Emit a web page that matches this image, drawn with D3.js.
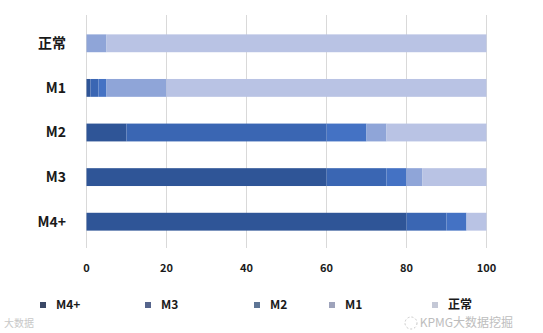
<!DOCTYPE html>
<html>
<head>
<meta charset="utf-8">
<script src="https://cdn.jsdelivr.net/npm/d3@7"></script>
<style>
  body { margin: 0; background: #fff; }
  svg { display: block; font-family: "Noto Sans CJK SC", "Liberation Sans", sans-serif; }
</style>
</head>
<body>
<svg id="chart" width="543" height="333"></svg>
<script>
// categories top to bottom
const categories = ["正常", "M1", "M2", "M3", "M4+"]
const seriesNames = ["M4+", "M3", "M2", "M1", "正常"]
// percent per series, in category order
const m4 = [0, 1, 10, 60, 80]
const m3 = [0, 2, 50, 15, 10]
const m2 = [0, 2, 10, 5, 5]
const m1 = [5, 15, 5, 4, 0]
const normal = [95, 80, 25, 16, 5]
const xTicks = [0, 20, 40, 60, 80, 100]

const barColors = ["#2f5597", "#3a66b3", "#4472c4", "#8fa5d8", "#b9c3e4"]
const legendColors = ["#3b4866", "#56658c", "#5e7595", "#9ea3bb", "#c4c8d6"]

const values = [m4, m3, m2, m1, normal]
const rows = categories.map((c, i) => {
  let r = { cat: c }
  seriesNames.forEach((s, j) => r[s] = values[j][i])
  return r
})
const stacked = d3.stack().keys(seriesNames)(rows)

const svg = d3.select("#chart")
const x = d3.scaleLinear().domain([0, 100]).range([86.5, 486.5])
const y = d3.scaleBand().domain(categories).range([21, 244]).paddingInner(0.6).paddingOuter(0.3)

// gridlines
svg.append("g").selectAll("line").data(xTicks).enter().append("line")
  .attr("x1", d => x(d)).attr("x2", d => x(d))
  .attr("y1", 15).attr("y2", 248)
  .attr("stroke", "#d9d9d9").attr("stroke-width", 1)

// bars
svg.append("g").selectAll("g").data(stacked).enter().append("g")
  .attr("fill", (d, i) => barColors[i])
  .selectAll("rect").data(d => d).enter().append("rect")
  .attr("x", d => x(d[0]))
  .attr("width", d => x(d[1]) - x(d[0]))
  .attr("y", d => y(d.data.cat))
  .attr("height", y.bandwidth())

// category labels
svg.append("g").selectAll("text").data(categories).enter().append("text")
  .attr("x", 66).attr("y", d => y(d) + y.bandwidth() / 2)
  .attr("dy", "0.35em").attr("text-anchor", "end")
  .attr("font-size", 14).attr("font-weight", "bold").attr("fill", "#1a1a1a")
  .text(d => d)

// x tick labels
svg.append("g").selectAll("text").data(xTicks).enter().append("text")
  .attr("x", d => x(d)).attr("y", 268).attr("dy", "0.35em")
  .attr("text-anchor", "middle").attr("font-size", 11).attr("font-weight", "bold")
  .attr("fill", "#1a1a1a")
  .text(d => d)

// legend
const legendX = [43, 148, 257, 332, 435]
const lg = svg.append("g").selectAll("g").data(seriesNames).enter().append("g")
  .attr("transform", (d, i) => `translate(${legendX[i]},305)`)
lg.append("rect").attr("x", -3).attr("y", -3).attr("width", 6).attr("height", 6)
  .attr("fill", (d, i) => legendColors[i])
lg.append("text").attr("x", 13).attr("dy", "0.35em")
  .attr("font-size", 12).attr("font-weight", "bold").attr("fill", "#1a1a1a")
  .text(d => d)

// watermarks
svg.append("text").attr("x", 513).attr("y", 323).attr("dy", "0.35em")
  .attr("text-anchor", "end")
  .attr("font-size", 12).attr("fill", "#bdbdbd")
  .text("KPMG大数据挖掘")
svg.append("circle").attr("cx", 411).attr("cy", 323).attr("r", 6)
  .attr("fill", "none").attr("stroke", "#c8c8c8").attr("stroke-dasharray", "2,2")
svg.append("text").attr("x", 4).attr("y", 323).attr("dy", "0.35em")
  .attr("font-size", 10).attr("fill", "#c8c8c8")
  .text("大数据")
</script>
</body>
</html>
